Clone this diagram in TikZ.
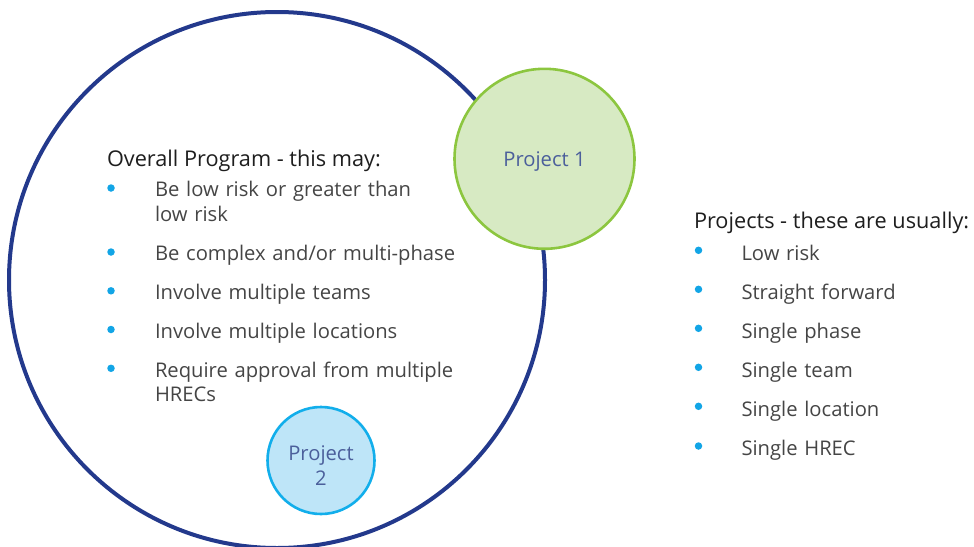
\documentclass[tikz,border=0pt]{standalone}
\usepackage{fontspec}
\setmainfont{Open Sans}
\definecolor{ringnavy}{HTML}{23398C}
\definecolor{pgreen}{HTML}{8CC63F}
\definecolor{pgreenfill}{HTML}{D7EAC3}
\definecolor{pcyan}{HTML}{12AEEB}
\definecolor{pcyanfill}{HTML}{BEE5F8}
\definecolor{bulletblue}{HTML}{12A5E6}
\definecolor{projtext}{HTML}{4B5F9B}
\definecolor{headtext}{HTML}{1E1E1E}
\definecolor{itemtext}{HTML}{454545}
\begin{document}
\begin{tikzpicture}[x=1pt,y=-1pt,
  every node/.style={inner sep=0pt, outer sep=0pt},
  txt/.style={font=\fontsize{20.2}{24.5}\selectfont},
  ring/.style={circle, draw=ringnavy, line width=4pt},
  proj/.style={circle, txt, line width=2.6pt, align=center, text=projtext},
  head/.style={font=\fontsize{21.7}{26}\selectfont, anchor=base west, text=headtext},
  item/.style={txt, anchor=base west, text=itemtext, text width=380pt, align=left},
  dot/.style={circle, fill=bulletblue, minimum size=7.5pt}
]
\useasboundingbox (0,0) rectangle (974,546);

% the overall program and its projects
\node[ring, minimum size=536pt] (program) at (277,280) {};
\node[proj, draw=pgreen, fill=pgreenfill, minimum size=180pt, text depth=0pt] (p1) at (544.5,158.8) {Project 1};
\node[proj, draw=pcyan, fill=pcyanfill, minimum size=107pt, text height=49pt, text depth=0pt] (p2) at (321,460.5) {Project\\2};

% what a program may be
\node[head] (proghead) at (107,166) {Overall Program - this may:};
\node[dot] (lb1) at (111,188) {};
\node[item] (li1) at (155,196.7) {Be low risk or greater than\\low risk};
\node[dot] (lb2) at (111,252) {};
\node[item] (li2) at (155,260.7) {Be complex and/or multi-phase};
\node[dot] (lb3) at (111,290.8) {};
\node[item] (li3) at (155,299.5) {Involve multiple teams};
\node[dot] (lb4) at (111,329.5) {};
\node[item] (li4) at (155,338.2) {Involve multiple locations};
\node[dot] (lb5) at (111,368.3) {};
\node[item] (li5) at (155,377) {Require approval from multiple\\HRECs};

% what a project usually is
\node[head] (projhead) at (694,228) {Projects - these are usually:};
\node[dot] (rb1) at (698.5,250.3) {};
\node[item] (ri1) at (741.5,260) {Low risk};
\node[dot] (rb2) at (698.5,289.3) {};
\node[item] (ri2) at (741.5,299) {Straight forward};
\node[dot] (rb3) at (698.5,328.3) {};
\node[item] (ri3) at (741.5,338) {Single phase};
\node[dot] (rb4) at (698.5,367.3) {};
\node[item] (ri4) at (741.5,377) {Single team};
\node[dot] (rb5) at (698.5,406.3) {};
\node[item] (ri5) at (741.5,416) {Single location};
\node[dot] (rb6) at (698.5,446) {};
\node[item] (ri6) at (741.5,455.7) {Single HREC};
\end{tikzpicture}
\end{document}
